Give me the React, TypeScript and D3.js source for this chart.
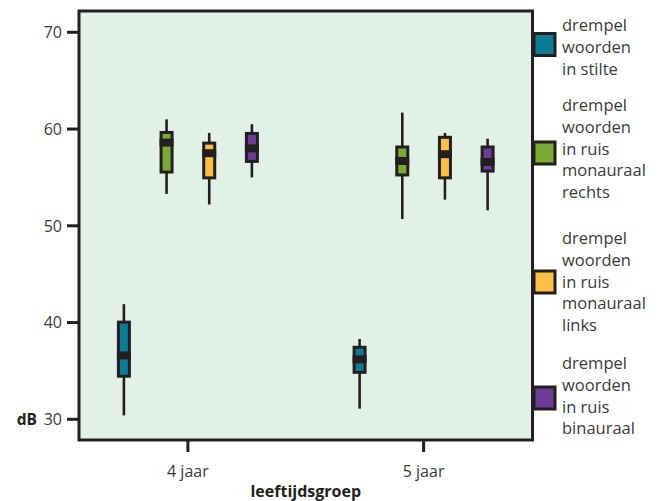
import React from 'react';
import * as d3 from 'd3';

const groups = ['4 jaar', '5 jaar'];
const seriesNames = [
  ['drempel', 'woorden', 'in stilte'],
  ['drempel', 'woorden', 'in ruis', 'monauraal', 'rechts'],
  ['drempel', 'woorden', 'in ruis', 'monauraal', 'links'],
  ['drempel', 'woorden', 'in ruis', 'binauraal'],
];
const seriesColors = ['#0b7c93', '#7caa37', '#fdbe48', '#6d3c97'];

// per series: [4 jaar, 5 jaar]
const minValues = [[30.4, 31.1], [53.3, 50.7], [52.2, 52.7], [55.0, 51.6]];
const q1Values = [[34.3, 34.7], [55.4, 55.1], [54.8, 54.8], [56.5, 55.5]];
const medianValues = [[36.6, 36.2], [58.6, 56.7], [57.5, 57.4], [58.0, 56.6]];
const q3Values = [[40.2, 37.6], [59.8, 58.3], [58.7, 59.3], [59.7, 58.3]];
const maxValues = [[41.9, 38.3], [61.0, 61.7], [59.6, 59.6], [60.5, 59.0]];

const yTicks = [30, 40, 50, 60, 70];

const W = 664;
const H = 501;
const left = 79;
const right = 532.5;
const top = 11;
const bottom = 440;
const ink = '#231f20';
const textColor = '#3a3a3a';
const font = '"Open Sans", Lato, sans-serif';

// legend layout: first baseline and square centre per entry
const legendFirstBaseline = [31, 111, 244, 369];
const legendSquareCenter = [44.5, 153, 282, 398];

export default function App() {
  const y = d3.scaleLinear().domain([27.86, 72.2]).range([bottom, top]);
  const x = d3.scalePoint<string>().domain(groups).range([left, right]).padding(0.462);
  const offset = d3.scalePoint<number>().domain(d3.range(seriesNames.length)).range([-64, 64]);
  const boxW = 14;
  const inset = 3;
  const medH = 8;

  return (
    <svg width={W} height={H} style={{ position: 'absolute', left: 0, top: 0 }} fontFamily={font}>
      <rect x={left} y={top} width={right - left} height={bottom - top} fill="#e2f1e7" />

      {groups.map((g, gi) =>
        seriesNames.map((_, si) => {
          const cx = (x(g) as number) + (offset(si) as number);
          const yMax = y(maxValues[si][gi]);
          const yMin = y(minValues[si][gi]);
          const yQ3 = y(q3Values[si][gi]);
          const yQ1 = y(q1Values[si][gi]);
          const yMed = y(medianValues[si][gi]);
          return (
            <g key={`${gi}-${si}`}>
              <line x1={cx} x2={cx} y1={yMax} y2={yMin} stroke={ink} strokeWidth={2.6} />
              <rect x={cx - boxW / 2} y={yQ3} width={boxW} height={yQ1 - yQ3} fill={ink} />
              <rect
                x={cx - boxW / 2 + inset}
                y={yQ3 + inset}
                width={boxW - 2 * inset}
                height={Math.max(0, yQ1 - yQ3 - 2 * inset)}
                fill={seriesColors[si]}
              />
              <rect x={cx - boxW / 2} y={yMed - medH / 2} width={boxW} height={medH} fill={ink} />
            </g>
          );
        })
      )}

      <rect x={left} y={top} width={right - left} height={bottom - top} fill="none" stroke={ink} strokeWidth={3} />

      {/* y axis */}
      {yTicks.map((t) => (
        <g key={t} transform={`translate(0,${y(t)})`}>
          <line x1={67} x2={left} stroke={ink} strokeWidth={3} />
          <text x={62} dy="0.36em" textAnchor="end" fontSize={16} fill={textColor}>
            {t}
          </text>
        </g>
      ))}
      <text x={37} y={y(30)} dy="0.36em" textAnchor="end" fontSize={15.5} fontWeight="bold" fill={ink}>
        dB
      </text>

      {/* x axis */}
      {groups.map((g) => (
        <g key={g} transform={`translate(${x(g)},0)`}>
          <line y1={bottom} y2={bottom + 12} stroke={ink} strokeWidth={3} />
          <text y={477} textAnchor="middle" fontSize={16} fill={textColor}>
            {g}
          </text>
        </g>
      ))}
      <text x={(left + right) / 2} y={497} textAnchor="middle" fontSize={16} fontWeight="bold" fill={ink}>
        leeftijdsgroep
      </text>

      {/* legend */}
      {seriesNames.map((lines, si) => (
        <g key={si}>
          <rect
            x={right + 1.5}
            y={legendSquareCenter[si] - 11}
            width={21}
            height={22}
            fill={seriesColors[si]}
            stroke={ink}
            strokeWidth={3}
          />
          {lines.map((ln, li) => (
            <text key={li} x={562} y={legendFirstBaseline[si] + li * 21.8} fontSize={16.5} fill={textColor}>
              {ln}
            </text>
          ))}
        </g>
      ))}
    </svg>
  );
}
